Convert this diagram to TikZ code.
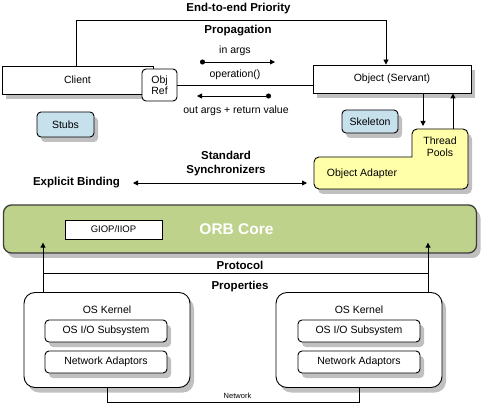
\documentclass[tikz,border=0pt]{standalone}
\usepackage{fontspec}
\setmainfont{Liberation Sans}
\usetikzlibrary{arrows.meta,shadows,positioning}
\definecolor{orbgreen}{RGB}{190,210,140}
\definecolor{adapteryellow}{RGB}{255,255,170}
\definecolor{stubblue}{RGB}{198,224,236}
\definecolor{shadowgray}{RGB}{192,192,192}
\definecolor{edgegray}{RGB}{60,60,60}
\tikzset{
	sh/.style={drop shadow={shadow xshift=4pt,shadow yshift=-5pt,fill=shadowgray,opacity=1}},
	small/.style={font=\fontsize{10.5}{11.5}\selectfont},
	head/.style={font=\fontsize{11.5}{14}\selectfont\bfseries},
	box/.style={draw,line width=0.9pt,fill=white,inner sep=0pt,small},
	rbox/.style={box,rounded corners=4pt},
	kernelbox/.style={box,rounded corners=11pt,sh},
	arr/.style={line width=0.9pt,-{Triangle[length=5pt,width=5pt]}},
	dotarr/.style={line width=0.9pt,{Circle[length=5pt]}-{Triangle[length=5pt,width=5pt]}},
	dblarr/.style={line width=0.9pt,{Triangle[length=5pt,width=5pt]}-{Triangle[length=5pt,width=5pt]}},
}
\begin{document}
\begin{tikzpicture}[x=1pt,y=-1pt]
				\useasboundingbox (0,0) rectangle (482,406);
				\coordinate (prioL) at (76,20);
				\coordinate (prioR) at (386,20);
				\coordinate (inA) at (200,62);
				\coordinate (inB) at (275,62);
				\coordinate (outA) at (271,96);
				\coordinate (outB) at (197,96);
				\coordinate (tpIn) at (423,126);
				\coordinate (tpOut) at (453,129);
				\coordinate (syncL) at (133,183);
				\coordinate (syncR) at (307,183);
				\coordinate (protoL) at (43,273);
				\coordinate (protoR) at (428,273);
				\coordinate (netB) at (0,402);
				\node[box,sh,minimum width=151,minimum height=28] (client) at (77.5,80) {Client};
				\node[rbox,minimum width=35,minimum height=32,align=center] (objref) at (159.5,85) {Obj\\Ref};
				\node[box,sh,minimum width=158,minimum height=28] (obj) at (392,79) {Object (Servant)};
				\node[rbox,sh,fill=stubblue,minimum width=57,minimum height=25] (stubs) at (65.5,124.5) {Stubs};
				\node[rbox,sh,fill=stubblue,minimum width=56,minimum height=23] (skel) at (370,121.5) {Skeleton};
				\draw[line width=0.9pt,fill=adapteryellow,sh] (412,145) [rounded corners=5pt] -- (412,129) -- (468,129) -- (468,189) -- (314,189) -- (314,157) [sharp corners] -- (412,157) -- cycle;
				\node[small,align=center] (pools) at (440,146.5) {Thread\\Pools};
				\node[small] (adapter) at (362,174) {Object Adapter};
				\node[head] at (238.5,9) {End-to-end Priority};
				\node[head] at (238,31) {Propagation};
				\node[small] (inargs) at (235,51) {in args};
				\node[small] (op) at (235,75) {operation()};
				\node[small] (outargs) at (236,111) {out args + return value};
				\node[head,align=center] (sync) at (226,164) {Standard\\Synchronizers};
				\node[head] (bind) at (76.5,183) {Explicit Binding};
				\draw[arr] (client.north -| prioL) -- (prioL) -- (prioR) -- (obj.north -| prioR);
				\draw[dotarr] (inA) -- (inB);
				\draw[dotarr] (outA) -- (outB);
				\draw[line width=0.9pt] (objref.east) -- (objref.east -| obj.west);
				\draw[arr] (obj.south -| tpIn) -- (tpIn);
				\draw[arr] (tpOut) -- (obj.south -| tpOut);
				\draw[dblarr] (syncL) -- (syncR);
				\node[draw=edgegray,line width=1.3pt,fill=orbgreen,rounded corners=8pt,sh,minimum width=473,minimum height=48] (orb) at (240,229) {};
				\node[box,line width=0.8pt,minimum width=97,minimum height=19,font=\fontsize{9.5}{11}\selectfont] (giop) at (113.5,229.5) {GIOP/IIOP};
				\node[text=white,font=\fontsize{15.5}{18}\selectfont\bfseries] at (236.5,229) {ORB Core};
				\node[head] (proto) at (240,265) {Protocol};
				\node[head] (props) at (240,287) {Properties};
				\node[kernelbox,minimum width=166,minimum height=95] (kernL) at (107,340) {};
				\node[kernelbox,minimum width=166,minimum height=95] (kernR) at (359,340) {};
				\node[small,below=10pt of kernL.north] {OS Kernel};
				\node[small,below=10pt of kernR.north] {OS Kernel};
				\node[rbox,sh,minimum width=122,minimum height=22] (ioL) at (106,331) {OS I/O Subsystem};
				\node[rbox,sh,minimum width=122,minimum height=22] (netL) at (106,362) {Network Adaptors};
				\node[rbox,sh,minimum width=122,minimum height=22] (ioR) at (359,331) {OS I/O Subsystem};
				\node[rbox,sh,minimum width=122,minimum height=22] (netR) at (359,362) {Network Adaptors};
				\draw[arr] (kernL.north -| protoL) -- ([yshift=11pt]orb.south -| protoL);
				\draw[arr] (kernR.north -| protoR) -- ([yshift=11pt]orb.south -| protoR);
				\draw[line width=0.9pt] (protoL) -- (protoR);
				\draw[line width=0.9pt] (kernL.south) -- (kernL.south |- netB) -- (kernR.south |- netB) -- (kernR.south);
				\node[font=\fontsize{7.5}{9}\selectfont] at (237.5,396) {Network};
\end{tikzpicture}
\end{document}
